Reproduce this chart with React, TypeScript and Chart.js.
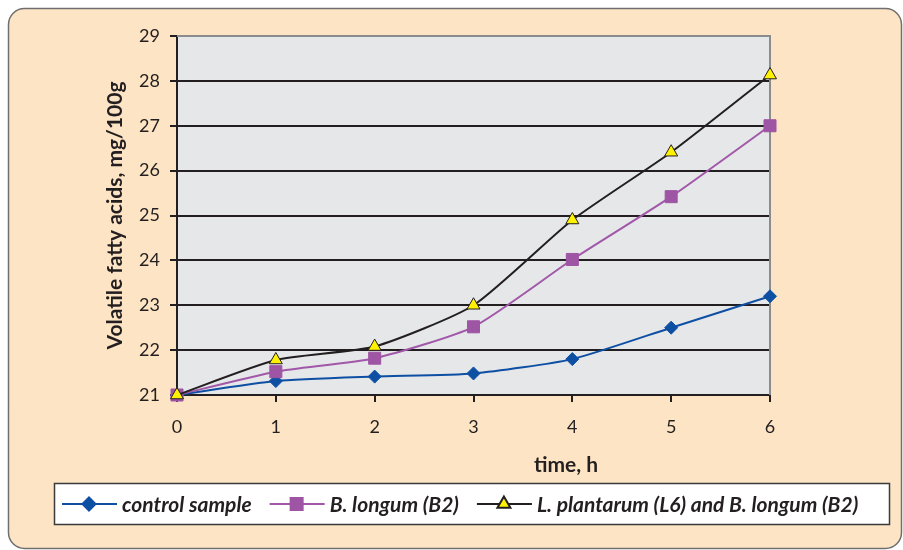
import React, { useEffect, useRef } from "react";
import { Chart, registerables } from "chart.js";
import { drawPoint } from "chart.js/helpers";

Chart.register(...registerables);

// ---- data ----
const timeHours = [0, 1, 2, 3, 4, 5, 6];
const controlSample = [21.0, 21.31, 21.41, 21.48, 21.8, 22.5, 23.2];
const bLongum = [21.0, 21.52, 21.82, 22.52, 24.02, 25.42, 27.0];
const lPlantarumBLongum = [21.0, 21.78, 22.08, 23.0, 24.9, 26.41, 28.13];
const seriesNames = [
  "control sample",
  "B. longum (B2)",
  "L. plantarum (L6) and B. longum (B2)",
];
const yAxisTitle = "Volatile fatty acids, mg/100g";
const xAxisTitle = "time, h";
const yMin = 21;
const yMax = 29;
const xMin = 0;
const xMax = 6;

const FONT = "Lato, 'Open Sans', sans-serif";
const DARK = "#231f20";

const toPoints = (vals: number[]) => timeHours.map((t, i) => ({ x: t, y: vals[i] }));

const framePlugin = {
  id: "frame",
  beforeDraw(chart: any) {
    const ctx = chart.ctx;
    const a = chart.chartArea;
    ctx.save();
    ctx.beginPath();
    (ctx as any).roundRect(8.5, 8.5, 893, 540, 16);
    ctx.fillStyle = "#fde4c4";
    ctx.fill();
    ctx.lineWidth = 1.5;
    ctx.strokeStyle = "#6f6f6f";
    ctx.stroke();
    ctx.fillStyle = "#e6e7e9";
    ctx.fillRect(a.left, a.top, a.right - a.left, a.bottom - a.top);
    ctx.restore();
  },
  beforeDatasetsDraw(chart: any) {
    const ctx = chart.ctx;
    const a = chart.chartArea;
    ctx.save();
    ctx.strokeStyle = "#8c8c8c";
    ctx.lineWidth = 2;
    ctx.beginPath();
    ctx.moveTo(a.left, a.top);
    ctx.lineTo(a.right, a.top);
    ctx.lineTo(a.right, a.bottom);
    ctx.stroke();
    ctx.restore();
  },
  afterDraw(chart: any) {
    const ctx = chart.ctx;
    const a = chart.chartArea;
    ctx.save();
    ctx.fillStyle = DARK;
    ctx.font = `bold 21px ${FONT}`;
    ctx.textAlign = "center";
    ctx.textBaseline = "middle";
    ctx.fillText(xAxisTitle, a.left + (a.right - a.left) * 0.656, a.bottom + 70);

    const bx = 54.5, by = 483.5, bw = 835, bh = 41;
    ctx.fillStyle = "#ffffff";
    ctx.fillRect(bx, by, bw, bh);
    ctx.strokeStyle = "#3a3a3a";
    ctx.lineWidth = 1.5;
    ctx.strokeRect(bx, by, bw, bh);

    const cy = by + bh / 2;
    let x = 62;
    ctx.font = `italic bold 21px ${FONT}`;
    ctx.textAlign = "left";
    ctx.textBaseline = "middle";
    const ds = chart.data.datasets;
    for (let i = 0; i < ds.length; i++) {
      const d = ds[i];
      ctx.strokeStyle = d.borderColor;
      ctx.lineWidth = d.borderWidth;
      ctx.beginPath();
      ctx.moveTo(x, cy);
      ctx.lineTo(x + 55, cy);
      ctx.stroke();
      ctx.fillStyle = d.pointBackgroundColor;
      ctx.strokeStyle = d.pointBorderColor;
      drawPoint(ctx, {
        pointStyle: d.pointStyle,
        radius: d.pointRadius,
        rotation: 0,
        borderWidth: d.pointBorderWidth,
      } as any, x + 27, cy);
      ctx.fillStyle = DARK;
      ctx.fillText(d.label, x + 60, cy + 1);
      x += 60 + ctx.measureText(d.label).width + 18;
    }
    ctx.restore();
  },
};

export default function App() {
  const ref = useRef<HTMLCanvasElement | null>(null);
  useEffect(() => {
    if (!ref.current) return;
    const chart = new Chart(ref.current, {
      type: "line",
      data: {
        datasets: [
          {
            label: seriesNames[0],
            data: toPoints(controlSample),
            borderColor: "#0d4fa3",
            borderWidth: 2,
            pointStyle: "rectRot",
            pointRadius: 6.5,
            pointBackgroundColor: "#0d4fa3",
            pointBorderColor: "#0d4fa3",
            pointBorderWidth: 1,
            tension: 0.2,
            clip: 12,
            order: 2,
          },
          {
            label: seriesNames[1],
            data: toPoints(bLongum),
            borderColor: "#a158a8",
            borderWidth: 2,
            pointStyle: "rect",
            pointRadius: 8.5,
            pointBackgroundColor: "#9e55a3",
            pointBorderColor: "#9e55a3",
            pointBorderWidth: 1,
            tension: 0.2,
            clip: 12,
            order: 1,
          },
          {
            label: seriesNames[2],
            data: toPoints(lPlantarumBLongum),
            borderColor: DARK,
            borderWidth: 2,
            pointStyle: "triangle",
            pointRadius: 7.5,
            pointBackgroundColor: "#fff200",
            pointBorderColor: DARK,
            pointBorderWidth: 1,
            tension: 0.2,
            clip: 12,
            order: 0,
          },
        ] as any,
      },
      options: {
        responsive: false,
        animation: false,
        devicePixelRatio: 1,
        layout: { padding: { left: 0, top: 36, right: 133, bottom: 0 } },
        plugins: {
          legend: { display: false },
          tooltip: { enabled: false },
        },
        scales: {
          x: {
            type: "linear",
            min: xMin,
            max: xMax,
            afterFit: (s: any) => {
              s.height = 155;
            },
            ticks: {
              stepSize: 1,
              color: DARK,
              font: { family: FONT, size: 18 },
              padding: 14,
            },
            grid: {
              drawOnChartArea: false,
              drawTicks: true,
              tickLength: 7,
              color: DARK,
              lineWidth: 2,
            },
            border: { color: DARK, width: 2 },
          },
          y: {
            type: "linear",
            min: yMin,
            max: yMax,
            afterFit: (s: any) => {
              s.width = 177;
            },
            ticks: {
              stepSize: 1,
              color: DARK,
              font: { family: FONT, size: 18 },
              padding: 10,
            },
            grid: {
              color: (c: any) => (c.tick && c.tick.value === yMax ? "rgba(0,0,0,0)" : DARK),
              tickColor: DARK,
              lineWidth: 2,
              drawTicks: true,
              tickLength: 7,
            },
            border: { color: DARK, width: 2 },
            title: {
              display: true,
              text: yAxisTitle,
              color: DARK,
              font: { family: FONT, size: 21, weight: "bold" },
              padding: { top: 103, bottom: 0 },
            },
          },
        },
      } as any,
      plugins: [framePlugin],
    });
    return () => chart.destroy();
  }, []);
  return (
    <canvas
      ref={ref}
      width={903}
      height={550}
      style={{ position: "absolute", left: 0, top: 0, width: 903, height: 550 }}
    />
  );
}
